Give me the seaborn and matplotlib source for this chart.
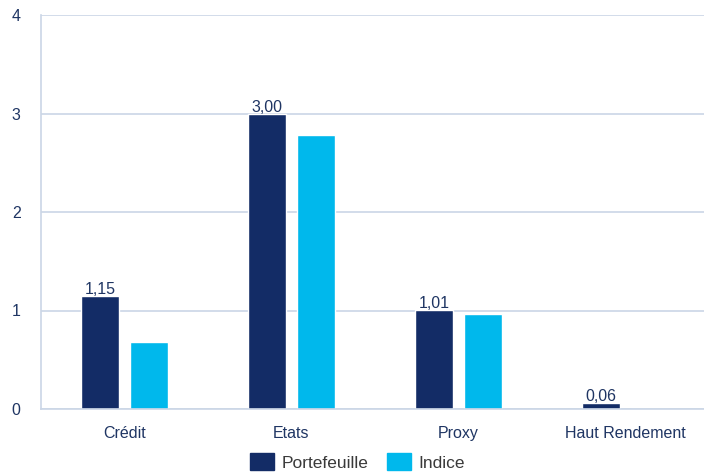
import pandas as pd
import numpy as np
import matplotlib.pyplot as plt
import seaborn as sns

# ===========================
# Data
# ===========================
categories = ["Crédit", "Etats", "Proxy", "Haut Rendement"]
portefeuille = [1.15, 3.00, 1.01, 0.06]
indice = [0.68, 2.78, 0.96, 0.0]
series = ["Portefeuille", "Indice"]
yticks = [0, 1, 2, 3, 4]

NAVY = "#132c66"
CYAN = "#00b8ec"
GRID = "#cbd6e6"
TEXT = "#1f3563"

df = pd.DataFrame({
    "categorie": categories * 2,
    "serie": [series[0]] * len(categories) + [series[1]] * len(categories),
    "valeur": portefeuille + indice,
})

# ===========================
# Plot
# ===========================
sns.set_theme(style="white")
plt.rcParams["font.family"] = ["Liberation Sans", "DejaVu Sans"]

fig = plt.figure(figsize=(7.04, 4.72), dpi=100)
ax = fig.add_axes([41 / 704, 63 / 472, 668 / 704, 394 / 472])

sns.barplot(
    data=df, x="categorie", y="valeur", hue="serie",
    palette=[NAVY, CYAN], width=0.587, gap=0.224,
    saturation=1, ax=ax, legend=False,
)

ax.set_ylim(0, 4)
ax.set_xlim(-0.5, len(categories) - 0.5)
ax.set_yticks(yticks)
ax.set_yticklabels([str(t) for t in yticks])
ax.set_xlabel("")
ax.set_ylabel("")

ax.yaxis.grid(True, color=GRID, linewidth=1.2)
ax.set_axisbelow(True)
for side in ["top", "right"]:
    ax.spines[side].set_visible(False)
for side in ["left", "bottom"]:
    ax.spines[side].set_color(GRID)
    ax.spines[side].set_linewidth(1.2)

ax.tick_params(axis="y", length=0, pad=21, labelsize=11.5, labelcolor=TEXT)
ax.tick_params(axis="x", which="major", length=0, pad=12, labelsize=11.5, labelcolor=TEXT)
ax.set_xticks(np.arange(-0.5, len(categories), 1.0), minor=True)
ax.tick_params(axis="x", which="minor", length=14, width=1.2, color=GRID)
for lbl in ax.get_yticklabels():
    lbl.set_horizontalalignment("left")

# value labels on Portefeuille bars
for bar, val in zip(ax.containers[0], portefeuille):
    ax.text(bar.get_x() + bar.get_width() / 2, bar.get_height() + 0.02,
            f"{val:.2f}".replace(".", ","), ha="center", va="baseline",
            fontsize=11.5, color=TEXT)

handles = [plt.Rectangle((0, 0), 1, 1, color=NAVY), plt.Rectangle((0, 0), 1, 1, color=CYAN)]
fig.legend(handles, series, loc="lower center", bbox_to_anchor=(0.508, -0.03),
           ncol=2, frameon=False, fontsize=12.5, handlelength=1.35, handleheight=1.1,
           columnspacing=1.1, handletextpad=0.45, labelcolor="#3a3a3a")

fig.savefig("out.png", dpi=100)
